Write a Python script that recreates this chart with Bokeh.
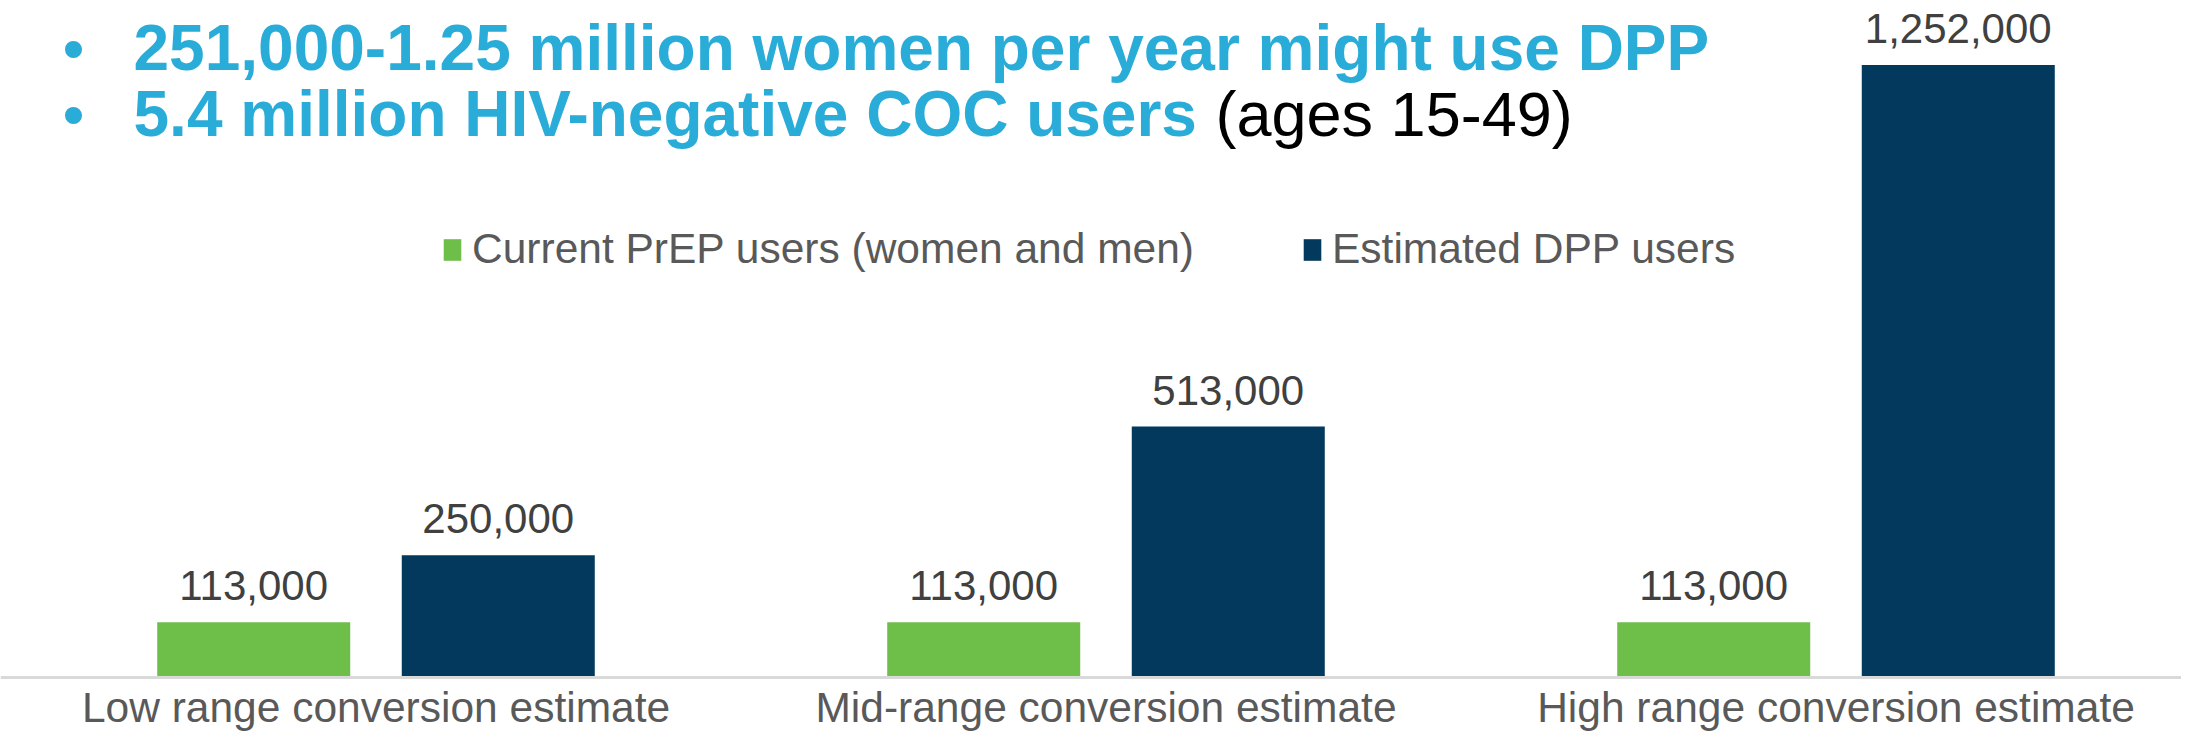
from bokeh.plotting import figure
from bokeh.models import ColumnDataSource, Range1d, Label, LabelSet, Span, Legend, LegendItem
from bokeh.transform import dodge
from bokeh.embed import file_html
from bokeh.resources import INLINE
from bokeh.core.properties import value
import numpy as np

# ---------------- data ----------------
categories = ["Low range conversion estimate",
              "Mid-range conversion estimate",
              "High range conversion estimate"]
current_prep_users = [113000, 113000, 113000]
estimated_dpp_users = [250000, 513000, 1252000]
series_names = ["Current PrEP users (women and men)", "Estimated DPP users"]
title_line1 = "251,000-1.25 million women per year might use DPP"
title_line2_bold = "5.4 million HIV-negative COC users"
title_line2_rest = "(ages 15-49)"

# ---------------- styling / layout ----------------
BLUE = "#2AACD8"
GREEN = "#6EBE4A"
NAVY = "#03395C"
FONT = "Liberation Sans"

W, H = 2181, 732
VAL_PER_PX = 2044.0         # data units per pixel
BASE_PY = 677.0             # canvas y of the zero line
UNIT_PX = 730.0             # pixels per category slot
FIRST_CENTER_PX = 375.5     # canvas x of first category centre
GROUP_OFF = 0.1675          # bar offset within group (category units)
BAR_W = 0.2644


def px(cx):
    return 0.5 + (cx - FIRST_CENTER_PX) / UNIT_PX


def py(cy):
    return (BASE_PY - cy) * VAL_PER_PX


xs = np.arange(len(categories)) + 0.5
src = ColumnDataSource(dict(
    x=xs,
    cat=categories,
    prep=current_prep_users,
    dpp=estimated_dpp_users,
    prep_lbl=[f"{v:,}" for v in current_prep_users],
    dpp_lbl=[f"{v:,}" for v in estimated_dpp_users],
    base=[0] * len(categories),
))

p = figure(width=W, height=H, output_backend="svg", toolbar_location=None,
           x_range=Range1d(px(0), px(W)),
           y_range=Range1d(py(H), py(0)),
           min_border=0, min_border_left=0, min_border_right=0,
           min_border_top=0, min_border_bottom=0)
p.axis.visible = False
p.grid.visible = False
p.outline_line_color = None
p.background_fill_color = "white"
p.border_fill_color = "white"

r_prep = p.vbar(x=dodge("x", -GROUP_OFF), top="prep", width=BAR_W, source=src,
                fill_color=GREEN, line_color=None)
r_dpp = p.vbar(x=dodge("x", GROUP_OFF), top="dpp", width=BAR_W, source=src,
               fill_color=NAVY, line_color=None)

# zero line
p.add_layout(Span(location=0, dimension="width", line_color="#D9D9D9", line_width=3))

# value labels
for col, lbl, off in (("prep", "prep_lbl", -GROUP_OFF), ("dpp", "dpp_lbl", GROUP_OFF)):
    p.add_layout(LabelSet(x=dodge("x", off), y=col, text=lbl, source=src,
                          y_offset=22, text_align="center", text_baseline="alphabetic",
                          text_font=value(FONT), text_font_size="42px",
                          text_color="#404040"))

# category labels
p.add_layout(LabelSet(x="x", y="base", text="cat", source=src,
                      y_offset=-44, text_align="center", text_baseline="alphabetic",
                      text_font=value(FONT), text_font_size="42.5px",
                      text_color="#595959"))

# title bullets and text
for yy in (47, 113):
    p.add_layout(Label(x=px(62), y=py(yy), text="\u2022", text_font=FONT,
                       text_font_size="63px", text_color=BLUE,
                       text_baseline="alphabetic"))
p.add_layout(Label(x=px(133), y=py(47), text=title_line1, text_font=FONT,
                   text_font_size="64px", text_font_style="bold", text_color=BLUE,
                   text_baseline="alphabetic"))
p.add_layout(Label(x=px(133), y=py(113), text=title_line2_bold, text_font=FONT,
                   text_font_size="64px", text_font_style="bold", text_color=BLUE,
                   text_baseline="alphabetic"))
p.add_layout(Label(x=px(1215), y=py(113), text=title_line2_rest, text_font=FONT,
                   text_font_size="63px", text_color="black",
                   text_baseline="alphabetic"))

legend = Legend(items=[LegendItem(label=series_names[0], renderers=[r_prep]),
                       LegendItem(label=series_names[1], renderers=[r_dpp])],
                orientation="horizontal", location=(441, 459),
                glyph_width=22, glyph_height=27, label_standoff=9, spacing=107,
                padding=0, margin=0, border_line_color=None,
                background_fill_alpha=0, label_text_font=FONT,
                label_text_font_size="42.5px", label_text_color="#595959")
p.add_layout(legend)

open("out.html", "w").write(file_html(p, INLINE))
